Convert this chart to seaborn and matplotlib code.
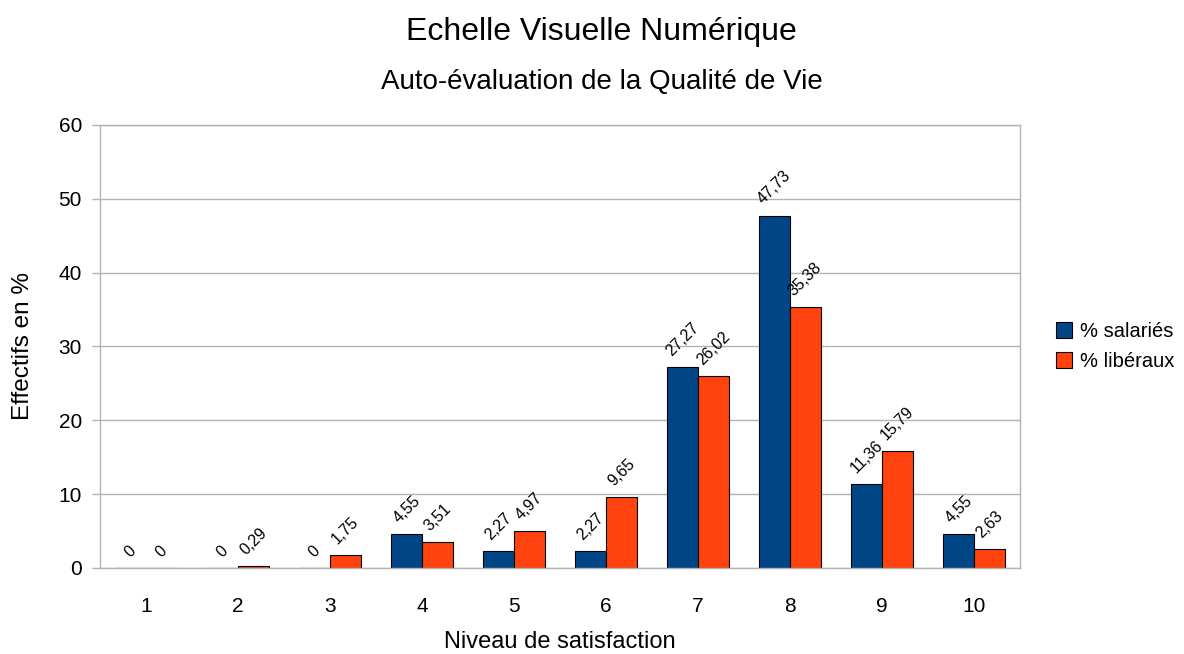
import numpy as np
import pandas as pd
import matplotlib
matplotlib.use("Agg")
import matplotlib.pyplot as plt
import seaborn as sns

# ------------------------------------------------------
#   data
# ------------------------------------------------------
niveaux = ["1", "2", "3", "4", "5", "6", "7", "8", "9", "10"]
salaries = [0, 0, 0, 4.55, 2.27, 2.27, 27.27, 47.73, 11.36, 4.55]
liberaux = [0, 0.29, 1.75, 3.51, 4.97, 9.65, 26.02, 35.38, 15.79, 2.63]
series = ["% salariés", "% libéraux"]

COLORS = ["#004586", "#ff420e"]
GRID = "#b3b3b3"

sns.set_theme(style="white")
plt.rcParams["font.family"] = ["Liberation Sans", "DejaVu Sans"]
plt.rcParams["text.color"] = "black"
plt.rcParams["axes.labelcolor"] = "black"
plt.rcParams["xtick.color"] = "black"
plt.rcParams["ytick.color"] = "black"

df = pd.DataFrame({
    "niveau": niveaux * 2,
    "valeur": salaries + liberaux,
    "serie": [series[0]] * len(niveaux) + [series[1]] * len(niveaux),
})

fig = plt.figure(figsize=(11.84, 6.54), dpi=100)
ax = fig.add_axes([0.0845, 0.1315, 0.777, 0.6775])

sns.barplot(data=df, x="niveau", y="valeur", hue="serie", order=niveaux,
            hue_order=series, palette=COLORS, width=0.67, gap=0,
            edgecolor="black", linewidth=0.8, saturation=1, ax=ax)

# value labels (comma decimal)
for cont in ax.containers:
    labels = [f"{v:g}".replace(".", ",") for v in cont.datavalues]
    ax.bar_label(cont, labels=labels, rotation=45, padding=6, fontsize=11.5,
                 color="black")

ax.set_ylim(0, 60)
ax.set_xlim(-0.5, len(niveaux) - 0.5)
ax.set_yticks(np.arange(0, 61, 10))
ax.yaxis.grid(True, color=GRID, linewidth=1)
ax.set_axisbelow(True)
for sp in ax.spines.values():
    sp.set_color(GRID)
    sp.set_linewidth(1)

ax.set_xticks(np.arange(-0.5, len(niveaux)), minor=True)
ax.tick_params(axis="x", which="major", length=0, pad=21, labelsize=15)
ax.tick_params(axis="x", which="minor", length=7, width=1, color=GRID,
               direction="out")
ax.tick_params(axis="y", length=6, width=1, color=GRID, labelsize=15,
               left=True, direction="out", pad=7)

ax.set_xlabel("Niveau de satisfaction", fontsize=17, labelpad=11)
ax.set_ylabel("Effectifs en %", fontsize=17.5, labelpad=18)

fig.text(0.508, 0.951, "Echelle Visuelle Numérique", ha="center", va="center",
         fontsize=23)
fig.text(0.508, 0.875, "Auto-évaluation de la Qualité de Vie", ha="center",
         va="center", fontsize=20)

ax.legend(loc="center left", bbox_to_anchor=(1.03, 0.5), frameon=False,
          fontsize=14.5, handlelength=0.8, handleheight=0.8, handletextpad=0.4,
          labelspacing=0.55, borderaxespad=0)

fig.savefig("out.png", dpi=100)
